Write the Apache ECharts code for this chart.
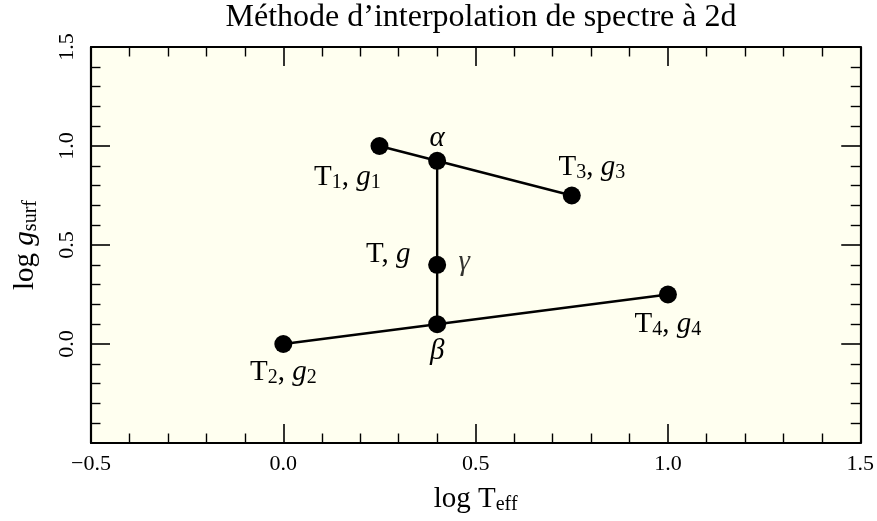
<!DOCTYPE html>
<html>
<head>
<meta charset="utf-8">
<title>Méthode d’interpolation de spectre à 2d</title>
<script src="https://cdn.jsdelivr.net/npm/echarts@6/dist/echarts.min.js"></script>
<style>
  html, body { margin: 0; padding: 0; background: #ffffff; }
  #chart { width: 877px; height: 521px; }
</style>
</head>
<body>
<div id="chart"></div>
<script>
// points of the 2d interpolation scheme
const pointNames = ["T1", "alpha", "T3", "Tg", "beta", "T2", "T4"];
const logT = [0.25, 0.4, 0.75, 0.4, 0.4, 0.0, 1.0];
const logG = [1.0, 0.925, 0.75, 0.4, 0.1, 0.0, 0.25];
const pointLabels = [
  "{m|T}{s|1}{m|, }{i|g}{s|1}",
  "{i|α}",
  "{m|T}{s|3}{m|, }{i|g}{s|3}",
  "{m|T, }{i|g}",
  "{i|β}",
  "{m|T}{s|2}{m|, }{i|g}{s|2}",
  "{m|T}{s|4}{m|, }{i|g}{s|4}",
];
// segments joining the points (indices into the arrays above)
const segments = [[0, 2], [5, 6], [1, 4]];
const axisTicks = [-0.5, 0.0, 0.5, 1.0, 1.5];

const serif = "'Liberation Serif', 'DejaVu Serif', serif";

// label placement relative to each point, in pixels
const labelOffset = {
  T1: [-32, 32],
  alpha: [0, -22],
  T3: [20, -28],
  Tg: [-49, -10],
  gamma: [27, -2],
  beta: [0, 28],
  T2: [0, 29],
  T4: [0, 30],
};

const richText = {
  m: { fontFamily: serif, fontSize: 29, color: "#000", lineHeight: 30, verticalAlign: "top" },
  i: { fontFamily: serif, fontSize: 29, fontStyle: "italic", color: "#000", lineHeight: 30, verticalAlign: "top" },
  s: { fontFamily: serif, fontSize: 20, color: "#000", lineHeight: 20, verticalAlign: "bottom" },
};

const chart = echarts.init(document.getElementById("chart"));

const fmt = (v) => (v < 0 ? "\u2212" + Math.abs(v).toFixed(1) : v.toFixed(1));

const baseAxis = {
  type: "value",
  min: axisTicks[0],
  max: axisTicks[axisTicks.length - 1],
  interval: 0.5,
  splitLine: { show: false },
  axisLine: { show: true, onZero: false, lineStyle: { color: "#000", width: 2.2 } },
  axisTick: { show: true, inside: true, length: 19, lineStyle: { color: "#000", width: 1.6 } },
  minorTick: { show: true, splitNumber: 5, length: 9.5, lineStyle: { color: "#000", width: 1.4 } },
  minorSplitLine: { show: false },
};

const scatterData = logT.map((x, i) => {
  const name = pointNames[i];
  return {
    value: [x, logG[i]],
    name: name,
    label: {
      show: true,
      position: "inside",
      offset: labelOffset[name],
      formatter: pointLabels[i],
      rich: richText,
    },
  };
});

const lineSeries = segments.map((seg) => ({
  type: "line",
  xAxisIndex: 0,
  yAxisIndex: 0,
  symbol: "none",
  silent: true,
  z: 2,
  lineStyle: { color: "#000", width: 2.4 },
  data: seg.map((k) => [logT[k], logG[k]]),
}));

chart.setOption({
  animation: false,
  title: {
    text: "Méthode d’interpolation de spectre à 2d",
    left: 476,
    top: -3,
    textAlign: "center",
    textStyle: { fontFamily: serif, fontSize: 32, fontWeight: "normal", color: "#000" },
  },
  grid: {
    left: 91,
    right: 15.5,
    top: 47,
    bottom: 78,
    show: true,
    backgroundColor: "#fffff0",
    borderWidth: 0,
  },
  xAxis: [
    {
      ...baseAxis,
      position: "bottom",
      axisLabel: { margin: 10, color: "#000", fontFamily: serif, fontSize: 22, formatter: fmt },
      name: "{m|log T}{s|eff}",
      nameLocation: "middle",
      nameGap: 42,
      nameTextStyle: {
        rich: {
          m: { fontFamily: serif, fontSize: 29, color: "#000", lineHeight: 30, verticalAlign: "top" },
          s: { fontFamily: serif, fontSize: 20, color: "#000", lineHeight: 20, verticalAlign: "bottom" },
        },
      },
    },
    { ...baseAxis, position: "top", axisLabel: { show: false } },
  ],
  yAxis: [
    {
      ...baseAxis,
      position: "left",
      axisLabel: {
        margin: 13,
        rotate: 90,
        color: "#000",
        fontFamily: serif,
        fontSize: 22,
        formatter: (v) => (v < 0 ? "" : fmt(v)),
      },
      name: "{m|log }{i|g}{s|surf}",
      nameLocation: "middle",
      nameGap: 50,
      nameTextStyle: {
        rich: {
          m: { fontFamily: serif, fontSize: 29, color: "#000", lineHeight: 30, verticalAlign: "top" },
          i: { fontFamily: serif, fontSize: 29, fontStyle: "italic", color: "#000", lineHeight: 30, verticalAlign: "top" },
          s: { fontFamily: serif, fontSize: 20, color: "#000", lineHeight: 20, verticalAlign: "bottom" },
        },
      },
    },
    { ...baseAxis, position: "right", axisLabel: { show: false } },
  ],
  series: [
    ...lineSeries,
    {
      type: "scatter",
      xAxisIndex: 0,
      yAxisIndex: 0,
      z: 3,
      symbol: "circle",
      symbolSize: 18,
      itemStyle: { color: "#000", opacity: 1 },
      data: scatterData,
    },
    {
      // gamma label sits beside the interpolated point T, g
      type: "scatter",
      xAxisIndex: 0,
      yAxisIndex: 0,
      z: 3,
      symbolSize: 0,
      silent: true,
      data: [
        {
          value: [logT[3], logG[3]],
          label: {
            show: true,
            position: "inside",
            offset: labelOffset.gamma,
            formatter: "{i|γ}",
            rich: richText,
          },
        },
      ],
    },
  ],
});
</script>
</body>
</html>
